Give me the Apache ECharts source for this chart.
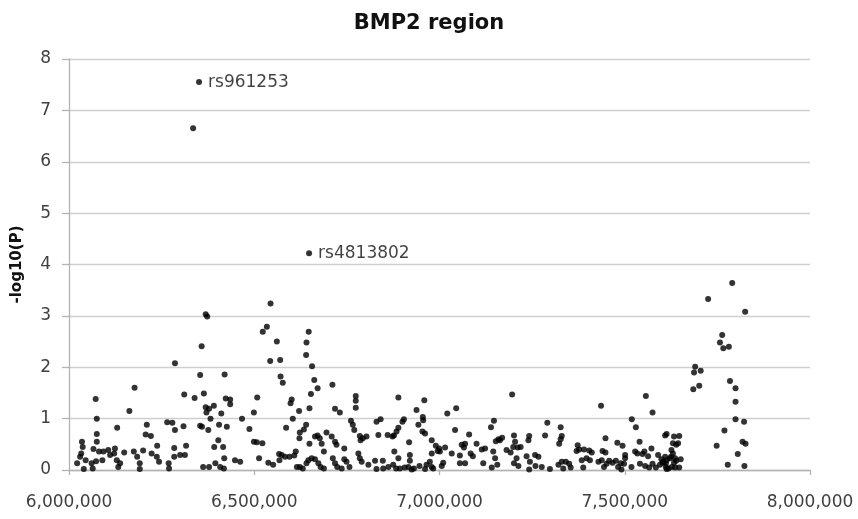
<!DOCTYPE html>
<html>
<head>
<meta charset="utf-8">
<script src="https://cdn.jsdelivr.net/npm/echarts@6/dist/echarts.min.js"></script>
<style>html,body{margin:0;padding:0;background:#fff;}#chart{width:858px;height:519px;}</style>
</head>
<body>
<div id="chart"></div>
<script>
// SNP positions (bp) and -log10(P) values
const positions = [
6369000,6373000,6358000,6286000,6354000,6420000,6177000,6364000,6311000,6339000,
6072000,6423000,6435000,6435000,6508000,6163000,6369000,6378000,6391000,6371000,
6411000,6499000,6075000,6382000,6467000,6130000,6210000,6265000,6279000,6286000,
6309000,6354000,6359000,6376000,6405000,6426000,6487000,6499000,6507000,6513000,
6075000,6075000,6035000,6037000,6207000,6221000,6238000,6403000,6392000,6416000,
6316000,6284000,6022000,6030000,6033000,6040000,6045000,6066000,6061000,6064000,
6073000,6081000,6090000,6093000,6106000,6111000,6122000,6124000,6129000,6133000,
6138000,6149000,6175000,6184000,6191000,6191000,6200000,6223000,6237000,6243000,
6269000,6270000,6284000,6300000,6313000,6362000,6378000,6395000,6408000,6418000,
6419000,6448000,6462000,
6544000,6523000,6534000,6561000,6647000,6641000,6640000,6543000,6570000,6656000,
6571000,6577000,6662000,6671000,6711000,6653000,6601000,6598000,6774000,6774000,
6774000,6889000,6621000,6649000,6718000,6731000,6604000,6830000,6841000,6761000,
6766000,6770000,6586000,6640000,6634000,6623000,6622000,6695000,6709000,6718000,
6722000,6664000,6671000,6677000,6682000,6688000,6649000,6785000,6793000,6803000,
6787000,6835000,6860000,6877000,6884000,6889000,6743000,6878000,6522000,6538000,
6551000,6567000,6574000,6568000,6583000,6595000,6608000,6612000,6615000,6623000,
6631000,6646000,6655000,6664000,6641000,6673000,6679000,6688000,6712000,6718000,
6724000,6736000,6743000,6749000,6757000,6781000,6785000,6790000,6808000,6826000,
6830000,6847000,6848000,6862000,6875000,6889000,6883000,
6959000,7196000,6938000,7021000,7045000,6955000,6956000,6943000,6954000,6961000,
6904000,6900000,6873000,7147000,7139000,7042000,7080000,6918000,6979000,6990000,
6999000,6995000,7015000,7001000,7060000,7069000,7066000,7100000,7114000,7123000,
7152000,7159000,7169000,7163000,7201000,7204000,7199000,7211000,7219000,7242000,
7240000,7181000,7192000,7145000,7033000,7055000,7084000,7090000,7235000,7258000,
7267000,6920000,6920000,6916000,6893000,6906000,6931000,6925000,6946000,6961000,
6965000,6974000,6979000,6983000,6979000,7006000,7010000,7055000,7069000,7118000,
7141000,7150000,7156000,7201000,7208000,7213000,7242000,7244000,7259000,
7557000,7436000,7575000,7291000,7327000,7330000,7327000,7323000,7285000,7519000,
7530000,7448000,7540000,7613000,7609000,7480000,7494000,7373000,7377000,7390000,
7404000,7411000,7370000,7384000,7397000,7406000,7440000,7448000,7501000,7501000,
7528000,7534000,7548000,7553000,7572000,7563000,7590000,7599000,7609000,7276000,
7298000,7321000,7330000,7334000,7341000,7350000,7354000,7388000,7429000,7438000,
7444000,7451000,7458000,7467000,7476000,7482000,7489000,7491000,7498000,7518000,
7541000,7555000,7566000,7575000,7584000,7595000,7604000,7611000,7618000,
7790000,7725000,7825000,7763000,7757000,7766000,7781000,7690000,7687000,7705000,
7685000,7701000,7784000,7799000,7799000,7799000,7822000,7769000,7818000,7826000,
7748000,7805000,7778000,7823000,7633000,7647000,7630000,7639000,7644000,7626000,
7630000,7625000,7602000,7611000,7613000,7622000,7636000,7651000,7613000,7627000,
7636000,7647000,7633000,7639000,
6351000,6335000,6648000
];
const logP = [
3.03,2.99,2.41,2.08,1.85,1.86,1.60,1.49,1.47,1.40,
1.38,1.39,1.37,1.28,1.41,1.15,1.22,1.19,1.25,1.12,
1.10,1.12,1.00,1.00,1.00,0.82,0.88,0.93,0.92,0.78,
0.85,0.86,0.84,0.78,0.88,0.84,0.80,0.55,0.54,0.23,
0.70,0.55,0.55,0.45,0.69,0.66,0.47,0.58,0.45,0.45,
0.47,0.43,0.13,0.26,0.32,0.02,0.19,0.41,0.13,0.03,
0.17,0.36,0.19,0.36,0.39,0.29,0.32,0.42,0.19,0.06,
0.13,0.34,0.36,0.26,0.13,0.02,0.38,0.32,0.26,0.16,
0.13,0.03,0.26,0.29,0.29,0.06,0.06,0.13,0.06,0.03,
0.23,0.19,0.16,
3.24,2.69,2.79,2.50,2.69,2.48,2.24,2.12,2.14,2.02,
1.82,1.70,1.75,1.59,1.66,1.48,1.37,1.30,1.44,1.35,
1.21,1.41,1.15,1.20,1.19,1.12,1.00,0.94,0.99,0.96,
0.88,0.78,0.82,0.88,0.79,0.73,0.62,0.73,0.65,0.55,
0.49,0.65,0.67,0.62,0.51,0.36,0.51,0.66,0.62,0.65,
0.58,0.68,0.68,0.67,0.75,0.82,0.42,0.36,0.52,0.14,
0.10,0.31,0.29,0.19,0.26,0.26,0.28,0.36,0.06,0.06,
0.03,0.19,0.23,0.21,0.13,0.13,0.06,0.03,0.23,0.13,
0.06,0.03,0.21,0.16,0.06,0.32,0.23,0.16,0.10,0.18,
0.02,0.18,0.03,0.06,0.10,0.23,0.03,
1.36,1.47,1.17,1.10,1.20,1.03,0.97,0.88,0.75,0.71,
0.99,0.94,0.65,0.96,0.83,0.78,0.69,0.54,0.58,0.47,
0.42,0.37,0.44,0.36,0.49,0.51,0.44,0.51,0.40,0.42,
0.56,0.60,0.63,0.58,0.67,0.55,0.45,0.44,0.45,0.66,
0.58,0.39,0.34,0.36,0.32,0.28,0.32,0.27,0.27,0.29,
0.26,0.29,0.18,0.06,0.03,0.05,0.03,0.01,0.08,0.02,
0.10,0.16,0.06,0.03,0.32,0.08,0.14,0.13,0.13,0.13,
0.05,0.23,0.10,0.13,0.23,0.08,0.01,0.16,0.08,
1.44,1.25,1.12,0.92,0.83,0.66,0.60,0.51,0.67,0.99,
0.83,0.62,0.55,0.70,0.67,0.53,0.47,0.48,0.40,0.40,
0.38,0.34,0.37,0.19,0.23,0.19,0.37,0.34,0.29,0.23,
0.36,0.32,0.31,0.36,0.42,0.27,0.29,0.21,0.26,0.06,
0.02,0.10,0.16,0.03,0.16,0.12,0.05,0.05,0.16,0.19,
0.06,0.12,0.18,0.14,0.18,0.06,0.13,0.01,0.12,0.06,
0.12,0.08,0.05,0.12,0.05,0.10,0.16,0.06,0.03,
3.64,3.33,3.08,2.63,2.48,2.37,2.40,2.01,1.90,1.93,
1.57,1.64,1.73,1.59,1.33,0.99,0.94,0.77,0.55,0.51,
0.47,0.31,0.10,0.08,0.65,0.66,0.52,0.49,0.52,0.39,
0.32,0.26,0.14,0.13,0.19,0.23,0.23,0.21,0.02,0.06,
0.05,0.05,0.14,0.18,
7.55,6.65,4.22
];
const labeledPositions = [6351000, 6648000];
const labeledNames = ['rs961253', 'rs4813802'];
const xTicks = [6000000, 6500000, 7000000, 7500000, 8000000];
const yTicks = [0, 1, 2, 3, 4, 5, 6, 7, 8];

const data = positions.map((p, i) => {
  const k = labeledPositions.indexOf(p);
  const item = { value: [p, logP[i]] };
  if (k >= 0 && logP[i] > 4) {
    item.label = { show: true, formatter: labeledNames[k] };
  }
  return item;
});

const chart = echarts.init(document.getElementById('chart'), null, { renderer: 'canvas' });
chart.setOption({
  animation: false,
  backgroundColor: '#ffffff',
  title: {
    text: 'BMP2 region',
    left: 'center',
    top: 8,
    textStyle: { fontFamily: 'DejaVu Sans', fontSize: 21, fontWeight: 'bold', color: '#111111' }
  },
  grid: { left: 69, right: 48, top: 59, bottom: 49, containLabel: false },
  xAxis: {
    type: 'value',
    min: xTicks[0],
    max: xTicks[xTicks.length - 1],
    interval: xTicks[1] - xTicks[0],
    axisLine: { show: true, lineStyle: { color: '#b3b3b3', width: 1.3 } },
    axisTick: { show: true, length: 5, lineStyle: { color: '#b3b3b3', width: 1.3 } },
    splitLine: { show: false },
    axisLabel: {
      margin: 24,
      fontFamily: 'DejaVu Sans',
      fontSize: 17,
      color: '#404040',
      formatter: v => v.toLocaleString('en-US')
    }
  },
  yAxis: {
    type: 'value',
    min: yTicks[0],
    max: yTicks[yTicks.length - 1],
    interval: yTicks[1] - yTicks[0],
    name: '-log10(P)',
    nameLocation: 'middle',
    nameGap: 44,
    nameTextStyle: { fontFamily: 'DejaVu Sans', fontSize: 15, fontWeight: 'bold', color: '#111111' },
    axisLine: { show: true, lineStyle: { color: '#b3b3b3', width: 1.3 } },
    axisTick: { show: true, length: 7, lineStyle: { color: '#b3b3b3', width: 1.3 } },
    splitLine: { show: true, lineStyle: { color: '#cfcfcf', width: 1.3 } },
    axisLabel: { margin: 18, fontFamily: 'DejaVu Sans', fontSize: 17, color: '#404040' }
  },
  series: [{
    type: 'scatter',
    data: data,
    symbol: 'circle',
    symbolSize: 6,
    itemStyle: { color: '#000000' },
    label: {
      show: false,
      position: 'right',
      distance: 6,
      fontFamily: 'DejaVu Sans',
      fontSize: 17,
      color: '#111111'
    }
  }]
});
</script>
</body>
</html>
